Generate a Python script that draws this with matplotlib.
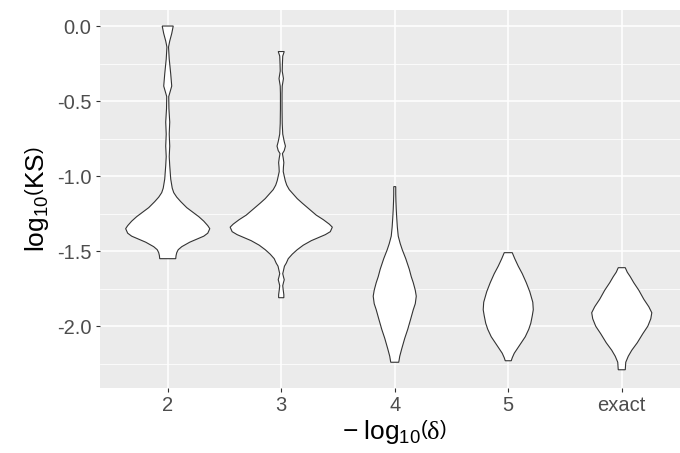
import matplotlib.pyplot as plt
import numpy as np

plt.rcParams['font.family'] = ['Liberation Sans', 'DejaVu Sans']
plt.rcParams['mathtext.fontset'] = 'custom'
plt.rcParams['mathtext.rm'] = 'Liberation Sans'
plt.rcParams['mathtext.it'] = 'Liberation Sans:italic'
plt.rcParams['mathtext.cal'] = 'Liberation Serif'

categories = ["2", "3", "4", "5", "exact"]

# violin outlines: log10(KS) levels and density (relative half width)
y_2 = [0.0, -0.05, -0.10, -0.14, -0.22, -0.32, -0.40, -0.47, -0.55, -0.64, -0.72, -0.80,
       -0.87, -0.93, -1.02, -1.08, -1.11, -1.14, -1.17, -1.21, -1.24, -1.27, -1.30,
       -1.33, -1.35, -1.38, -1.40, -1.42, -1.44, -1.47, -1.49, -1.51, -1.53, -1.55]
d_2 = [5.5, 4.0, 2.0, 0.8, 1.5, 3.0, 4.0, 1.0, 1.2, 2.0, 1.5, 2.0,
       1.5, 2.0, 3.0, 4.5, 6.0, 9.0, 13.0, 19.0, 25.0, 31.0, 36.0,
       40.0, 42.0, 40.0, 36.0, 29.0, 22.0, 14.0, 10.5, 9.0, 8.3, 8.0]

y_3 = [-0.17, -0.20, -0.25, -0.30, -0.35, -0.40, -0.45, -0.55, -0.65, -0.72, -0.77, -0.80,
       -0.83, -0.85, -0.88, -0.91, -0.94, -0.97, -1.00, -1.03, -1.06, -1.09, -1.12,
       -1.15, -1.18, -1.22, -1.26, -1.29, -1.32, -1.34, -1.37, -1.39, -1.41, -1.43,
       -1.46, -1.49, -1.52, -1.55, -1.58, -1.60, -1.63, -1.65, -1.67, -1.69, -1.71,
       -1.73, -1.76, -1.79, -1.81]
d_3 = [3.0, 1.5, 1.2, 1.0, 2.2, 1.0, 0.8, 0.8, 1.0, 1.5, 3.0, 4.2,
       3.0, 1.2, 2.0, 2.6, 2.2, 2.0, 3.0, 4.0, 5.5, 8.0, 12.0,
       16.0, 21.0, 28.0, 35.0, 42.0, 48.0, 51.0, 49.0, 44.0, 37.0, 30.0,
       22.0, 16.0, 11.0, 7.0, 5.0, 3.2, 2.2, 1.5, 2.2, 3.0, 2.2,
       1.5, 2.0, 2.6, 2.6]

y_4 = [-1.07, -1.12, -1.17, -1.22, -1.28, -1.34, -1.40, -1.45, -1.49, -1.55, -1.62,
       -1.67, -1.71, -1.76, -1.80, -1.85, -1.89, -1.95, -2.02, -2.08, -2.15, -2.20, -2.24]
d_4 = [1.0, 1.0, 1.2, 1.5, 2.0, 2.6, 3.5, 5.5, 7.5, 11.0, 14.5,
       16.5, 18.5, 20.5, 21.5, 20.5, 18.5, 16.0, 13.0, 10.0, 7.0, 5.0, 4.0]

y_5 = [-1.51, -1.55, -1.60, -1.65, -1.71, -1.77, -1.84, -1.89, -1.93, -1.98, -2.02,
       -2.07, -2.11, -2.15, -2.18, -2.21, -2.23]
d_5 = [4.0, 6.5, 10.0, 14.0, 18.0, 21.5, 24.5, 25.0, 24.0, 22.5, 20.5,
       17.0, 13.0, 9.0, 6.0, 4.0, 3.0]

y_exact = [-1.61, -1.64, -1.67, -1.71, -1.76, -1.82, -1.87, -1.91, -1.95, -2.00, -2.05,
           -2.11, -2.16, -2.20, -2.24, -2.27, -2.29]
d_exact = [3.5, 5.5, 8.5, 12.0, 17.0, 22.0, 27.0, 30.0, 29.0, 26.0, 21.0,
           15.5, 10.0, 6.5, 4.0, 3.7, 3.5]

y_levels = [y_2, y_3, y_4, y_5, y_exact]
densities = [d_2, d_3, d_4, d_5, d_exact]

fig = plt.figure(figsize=(6.8, 4.53), dpi=100)
# panel runs a little past the right edge, as in the original crop
ax = fig.add_axes([0.1465, 0.144, 0.868, 0.834])
ax.set_facecolor('#EBEBEB')

# ggplot scale="area": widest violin gets width 0.9
dmax = max(max(d) for d in densities)
for i, (ys, ds) in enumerate(zip(y_levels, densities)):
    ys = np.array(ys)
    hw = np.array(ds) / dmax * 0.45
    xs = np.concatenate([i - hw, (i + hw)[::-1]])
    yy = np.concatenate([ys, ys[::-1]])
    ax.fill(xs, yy, facecolor='white', edgecolor='#333333', linewidth=0.8, zorder=3)

ax.set_xlim(-0.6, len(categories) - 0.4)
ax.set_ylim(-2.41, 0.107)
ax.set_xticks(range(len(categories)))
ax.set_xticklabels(categories)
ax.set_yticks([0.0, -0.5, -1.0, -1.5, -2.0])
ax.set_yticklabels(["0.0", "-0.5", "-1.0", "-1.5", "-2.0"])
ax.set_yticks([-0.25, -0.75, -1.25, -1.75, -2.25], minor=True)

ax.grid(True, which='major', color='white', linewidth=1.1, zorder=0)
ax.grid(True, which='minor', axis='y', color='white', linewidth=0.55, zorder=0)
ax.set_axisbelow(True)
for s in ax.spines.values():
    s.set_visible(False)
ax.tick_params(which='major', length=3, width=0.8, color='#333333',
               labelsize=14.5, labelcolor='#4D4D4D', pad=3)
ax.tick_params(which='minor', length=0)

ax.set_ylabel(r"$\mathrm{log}_{10}\left(\mathrm{KS}\right)$", fontsize=19, color='black', labelpad=4)
ax.set_xlabel(r"$-\;\mathrm{log}_{10}\left(\mathcal{\delta}\right)$", fontsize=19, color='black', labelpad=2)

fig.savefig('out.png', dpi=100)
